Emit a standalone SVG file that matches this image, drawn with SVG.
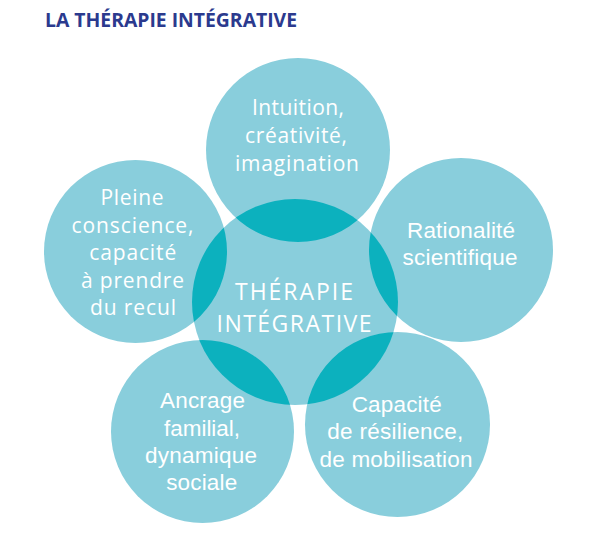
<svg xmlns="http://www.w3.org/2000/svg" width="600" height="538" viewBox="0 0 600 538">
  <style>
    .bubble { fill: #89CEDC; }
    .lens { fill: #0CB1BE; }
    .title { font-family: "Open Sans", "Noto Sans", sans-serif; font-weight: 700; font-size: 19px; fill: #2B3A8E; }
    .sq { font-family: "Open Sans", "Noto Sans", sans-serif; font-size: 21px; fill: #FFFFFF; text-anchor: middle; }
    .hv { font-family: "Liberation Sans", Arial, sans-serif; font-size: 22.5px; fill: #FFFFFF; text-anchor: middle; }
    .ctr { font-family: "Open Sans", "Noto Sans", sans-serif; font-size: 23px; fill: #FFFFFF; text-anchor: middle; }
  </style>
  <defs>
    <clipPath id="outerUnion">
      <circle cx="298" cy="150" r="92"/>
      <circle cx="135.5" cy="251.5" r="91.5"/>
      <circle cx="461" cy="250" r="92"/>
      <circle cx="202.5" cy="431.5" r="91.5"/>
      <circle cx="397.5" cy="424.5" r="92.5"/>
    </clipPath>
  </defs>
  <rect width="600" height="538" fill="#FFFFFF"/>

  <text class="title" x="45" y="26.7" textLength="252" lengthAdjust="spacingAndGlyphs">LA THÉRAPIE INTÉGRATIVE</text>

  <g id="center-circle">
    <circle class="bubble" cx="295" cy="302" r="103"/>
  </g>

  <g id="node-intuition">
    <circle class="bubble" cx="298" cy="150" r="92"/>
  </g>
  <g id="node-pleine-conscience">
    <circle class="bubble" cx="135.5" cy="251.5" r="91.5"/>
  </g>
  <g id="node-rationalite">
    <circle class="bubble" cx="461" cy="250" r="92"/>
  </g>
  <g id="node-ancrage">
    <circle class="bubble" cx="202.5" cy="431.5" r="91.5"/>
  </g>
  <g id="node-capacite">
    <circle class="bubble" cx="397.5" cy="424.5" r="92.5"/>
  </g>

  <g id="connectors">
    <circle class="lens" cx="295" cy="302" r="103" clip-path="url(#outerUnion)"/>
  </g>

  <g id="labels">
    <g id="label-center">
      <text class="ctr" x="294" y="300" textLength="118">THÉRAPIE</text>
      <text class="ctr" x="294" y="332" textLength="155">INTÉGRATIVE</text>
    </g>
    <g id="label-intuition">
      <text class="sq" x="298" y="115" textLength="92">Intuition,</text>
      <text class="sq" x="296" y="143" textLength="102">créativité,</text>
      <text class="sq" x="297" y="171" textLength="124">imagination</text>
    </g>
    <g id="label-pleine">
      <text class="sq" x="132" y="205" textLength="63">Pleine</text>
      <text class="sq" x="132.5" y="232.6" textLength="122">conscience,</text>
      <text class="sq" x="132.7" y="260.2" textLength="87">capacité</text>
      <text class="sq" x="132.5" y="287.8" textLength="103">à prendre</text>
      <text class="sq" x="133" y="315.4" textLength="86">du recul</text>
    </g>
    <g id="label-rationalite">
      <text class="hv" x="461" y="238" textLength="108">Rationalité</text>
      <text class="hv" x="460" y="265" textLength="115">scientifique</text>
    </g>
    <g id="label-ancrage">
      <text class="hv" x="202.5" y="408" textLength="85">Ancrage</text>
      <text class="hv" x="202" y="436" textLength="76">familial,</text>
      <text class="hv" x="201" y="463" textLength="112">dynamique</text>
      <text class="hv" x="201.7" y="490" textLength="71">sociale</text>
    </g>
    <g id="label-capacite">
      <text class="hv" x="396.7" y="411.5" textLength="90">Capacité</text>
      <text class="hv" x="395.3" y="439" textLength="136">de résilience,</text>
      <text class="hv" x="396" y="466.5" textLength="153">de mobilisation</text>
    </g>
  </g>
</svg>
